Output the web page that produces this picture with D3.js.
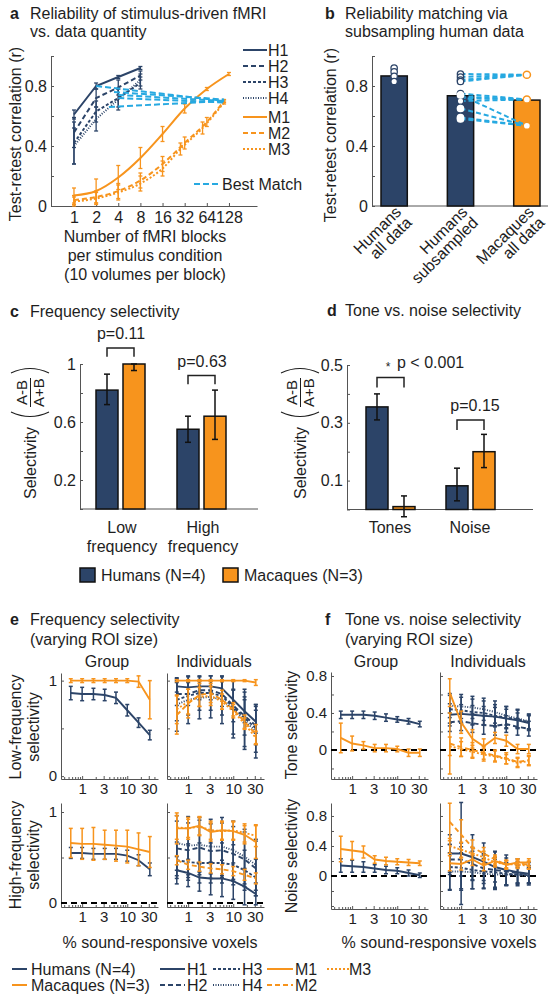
<!DOCTYPE html>
<html><head><meta charset="utf-8">
<script src="https://d3js.org/d3.v7.min.js"></script>
<style>
html,body{margin:0;padding:0;background:#fff;}
svg text{font-family:"Liberation Sans",Arial,Helvetica,sans-serif;}
</style></head>
<body><svg id="fig" width="555" height="997"></svg>
<script>
// ================= DATA =================
// Panel a
const aBlocks = [1,2,4,8,16,32,64,128];
const aHumanBlocks = [1,2,4,8];
const aH1 = [0.61,0.80,0.86,0.92], aH1e = [0.03,0.02,0.01,0.01];
const aH2 = [0.49,0.72,0.79,0.87], aH2e = [0.10,0.06,0.05,0.03];
const aH3 = [0.42,0.63,0.72,0.82], aH3e = [0.14,0.07,0.06,0.04];
const aH4 = [0.40,0.58,0.71,0.84], aH4e = [0.12,0.08,0.07,0.04];
const aM1x = [1,2,4,8,16,32,64,128], aM1 = [0.07,0.10,0.19,0.32,0.48,0.65,0.78,0.88], aM1e = [0.05,0.08,0.08,0.07,0.05,0.03,0.01,0.01];
const aM2x = [1,2,4,8,16,32,64,110], aM2 = [0.04,0.06,0.10,0.17,0.28,0.42,0.56,0.70], aM2e = [0.03,0.04,0.05,0.05,0.05,0.04,0.03,0.01];
const aM3x = [1,2,4,8,16,28,56,110], aM3 = [0.03,0.05,0.09,0.15,0.25,0.38,0.52,0.69], aM3e = [0.03,0.04,0.05,0.05,0.05,0.04,0.04,0.01];
const aBestStartX = [2,3.5,4,4,3], aBestStartY = [0.80,0.76,0.74,0.72,0.66];
const aBestEndX = [110,110,110,110,110], aBestEndY = [0.70,0.71,0.70,0.69,0.70];
const aLegend = ["H1","H2","H3","H4","M1","M2","M3"];

// Panel b
const bCats = [["Humans","all data"],["Humans","subsampled"],["Macaques","all data"]];
const bBars = [0.867,0.735,0.706];
const bHumansAll = [0.92,0.895,0.865,0.83];
const bMacaques = [0.875,0.71,0.535];
const bSubToM1 = [0.88,0.86,0.84,0.83];
const bSubToM2 = [0.75,0.73,0.72,0.70];
const bSubToM3 = [0.74,0.65,0.59,0.58];

// Panel c
const species = ["Humans (N=4)","Macaques (N=3)"];
const cGroups = [["Low","frequency"],["High","frequency"]];
const cVals = [[0.82,1.0],[0.55,0.64]];
const cLo = [[0.72,0.955],[0.46,0.48]];
const cHi = [[0.93,1.0],[0.64,0.82]];
const cP = ["p=0.11","p=0.63"];
const cBracket = [1.11,0.92];

// Panel d
const dGroups = ["Tones","Noise"];
const dVals = [[0.355,0.01],[0.082,0.20]];
const dLo = [[0.31,-0.025],[0.03,0.145]];
const dHi = [[0.40,0.047],[0.143,0.26]];
const dP = ["p < 0.001","p=0.15"];
const dBracket = [0.457,0.31];

// Panels e, f (x = % sound-responsive voxels)
const roiPct = [0.56,1,1.78,3.16,5.62,10,17.8,31.6];
// e: low-frequency, group
const eLoGrpH = [0.87,0.86,0.86,0.85,0.82,0.69,0.56,0.43], eLoGrpHe = [0.07,0.07,0.06,0.06,0.06,0.06,0.05,0.05];
const eLoGrpM = [1,1,1,1,1,1,0.99,0.80], eLoGrpMe = [0.02,0.02,0.02,0.02,0.02,0.02,0.06,0.20];
// e: low-frequency, individuals
const eLoH1 = [0.94,0.93,0.94,0.94,0.92,0.80,0.68,0.57], eLoH1e = [0.06,0.07,0.06,0.06,0.08,0.10,0.12,0.12];
const eLoH2 = [0.86,0.86,0.90,0.90,0.86,0.74,0.63,0.53], eLoH2e = [0.12,0.12,0.10,0.10,0.13,0.17,0.20,0.20];
const eLoH3 = [0.80,0.84,0.87,0.87,0.84,0.72,0.61,0.50], eLoH3e = [0.22,0.20,0.18,0.18,0.20,0.28,0.30,0.25];
const eLoH4 = [0.75,0.80,0.82,0.83,0.80,0.70,0.58,0.47], eLoH4e = [0.28,0.25,0.22,0.22,0.25,0.30,0.30,0.28];
const eLoM1 = [1,1,1,1,1,1,1,0.98], eLoM1e = [0.01,0.01,0.01,0.01,0.01,0.01,0.01,0.03];
const eLoM2 = [0.64,0.76,0.85,0.87,0.80,0.70,0.57,0.44], eLoM2e = [0.20,0.15,0.12,0.10,0.10,0.07,0.07,0.10];
const eLoM3 = [0.70,0.78,0.83,0.84,0.78,0.68,0.55,0.40], eLoM3e = [0.15,0.13,0.10,0.10,0.08,0.07,0.06,0.07];
// e: high-frequency, group
const eHiGrpH = [0.55,0.55,0.54,0.54,0.54,0.52,0.47,0.37], eHiGrpHe = [0.06,0.06,0.06,0.06,0.06,0.06,0.06,0.07];
const eHiGrpM = [0.66,0.65,0.65,0.64,0.63,0.62,0.59,0.56], eHiGrpMe = [0.16,0.17,0.18,0.16,0.17,0.18,0.18,0.17];
// e: high-frequency, individuals
const eHiH1 = [0.36,0.33,0.28,0.27,0.27,0.24,0.18,0.10], eHiH1e = [0.15,0.15,0.15,0.18,0.20,0.20,0.20,0.12];
const eHiH2 = [0.60,0.58,0.61,0.57,0.58,0.54,0.48,0.38], eHiH2e = [0.30,0.30,0.30,0.30,0.30,0.30,0.30,0.30];
const eHiH3 = [0.47,0.45,0.44,0.44,0.44,0.42,0.36,0.28], eHiH3e = [0.20,0.20,0.22,0.22,0.22,0.22,0.22,0.20];
const eHiH4 = [0.66,0.63,0.64,0.62,0.62,0.58,0.51,0.42], eHiH4e = [0.30,0.32,0.30,0.30,0.32,0.32,0.30,0.28];
const eHiM1 = [0.82,0.82,0.85,0.78,0.80,0.79,0.75,0.67], eHiM1e = [0.17,0.12,0.10,0.10,0.10,0.10,0.10,0.18];
const eHiM2 = [0.47,0.42,0.40,0.38,0.37,0.35,0.31,0.27], eHiM2e = [0.05,0.05,0.05,0.05,0.05,0.05,0.06,0.06];
const eHiM3 = [0.83,0.82,0.84,0.80,0.79,0.80,0.77,0.74], eHiM3e = [0.13,0.10,0.10,0.10,0.10,0.10,0.10,0.12];
// f: tone selectivity, group
const fToGrpH = [0.38,0.38,0.38,0.37,0.35,0.33,0.31,0.28], fToGrpHe = [0.04,0.04,0.04,0.04,0.04,0.03,0.03,0.03];
const fToGrpM = [0.13,0.07,0.05,0.02,0.02,0.01,-0.03,-0.03], fToGrpMe = [0.16,0.08,0.04,0.04,0.04,0.03,0.04,0.04];
// f: tone selectivity, individuals
const fToH1 = [0.38,0.39,0.38,0.37,0.36,0.34,0.32,0.29], fToH1e = [0.12,0.10,0.10,0.10,0.10,0.10,0.08,0.08];
const fToH2 = [0.30,0.31,0.29,0.27,0.26,0.28,0.25,0.23], fToH2e = [0.10,0.10,0.10,0.10,0.10,0.09,0.09,0.08];
const fToH3 = [0.44,0.43,0.41,0.40,0.37,0.35,0.33,0.30], fToH3e = [0.15,0.14,0.14,0.13,0.12,0.12,0.10,0.08];
const fToH4 = [0.48,0.47,0.46,0.44,0.41,0.37,0.34,0.31], fToH4e = [0.13,0.13,0.12,0.12,0.12,0.10,0.10,0.08];
const fToM1 = [0.62,0.30,0.12,0.04,0.13,0.10,0.01,0.01], fToM1e = [0.15,0.12,0.10,0.08,0.06,0.06,0.05,0.05];
const fToM2 = [0.07,0.03,0.00,-0.03,-0.06,-0.09,-0.13,-0.11], fToM2e = [0.33,0.10,0.08,0.07,0.06,0.06,0.05,0.05];
const fToM3 = [0.04,0.01,-0.02,-0.05,-0.07,-0.10,-0.14,-0.12], fToM3e = [0.10,0.08,0.07,0.07,0.06,0.05,0.05,0.05];
// f: noise selectivity, group
const fNoGrpH = [0.14,0.13,0.12,0.10,0.08,0.07,0.04,0.01], fNoGrpHe = [0.09,0.08,0.07,0.05,0.05,0.04,0.04,0.03];
const fNoGrpM = [0.36,0.34,0.32,0.22,0.20,0.19,0.18,0.17], fNoGrpMe = [0.17,0.12,0.08,0.05,0.05,0.04,0.04,0.03];
// f: noise selectivity, individuals
const fNoH1 = [0.30,0.30,0.25,0.19,0.12,0.08,0.05,0.03], fNoH1e = [0.25,0.68,0.30,0.25,0.20,0.20,0.18,0.15];
const fNoH2 = [0.22,0.22,0.16,0.10,0.08,0.06,0.04,0.02], fNoH2e = [0.20,0.22,0.22,0.20,0.25,0.18,0.15,0.12];
const fNoH3 = [0.12,0.11,0.08,0.06,0.05,0.03,0.02,0.01], fNoH3e = [0.30,0.28,0.25,0.22,0.20,0.15,0.12,0.10];
const fNoH4 = [0.06,0.06,0.05,0.03,0.02,0.02,0.01,0.00], fNoH4e = [0.25,0.25,0.22,0.20,0.20,0.15,0.10,0.10];
const fNoM1 = [0.17,0.16,0.22,0.14,0.20,0.15,0.18,0.18], fNoM1e = [0.10,0.08,0.08,0.07,0.06,0.06,0.05,0.05];
const fNoM2 = [0.72,0.55,0.38,0.30,0.22,0.15,0.17,0.15], fNoM2e = [0.25,0.20,0.10,0.08,0.06,0.05,0.05,0.05];
const fNoM3 = [0.40,0.35,0.30,0.25,0.18,0.16,0.15,0.14], fNoM3e = [0.10,0.10,0.08,0.08,0.06,0.05,0.05,0.05];
const roiTicks = [1,3,10,30];
const bottomLegend = [["Humans (N=4)","G","H"],["Macaques (N=3)","G","M"],["H1"],["H2"],["H3"],["H4"],["M1"],["M2"],["M3"]];

// ================= STYLE =================
const NAVY="#2c4468", ORANGE="#f7941d", BLUE="#27a9e1", INK="#1e1e1e", AX="#555";
const LS = {H1:[NAVY,null],H2:[NAVY,"5,3"],H3:[NAVY,"3,2"],H4:[NAVY,"1,1.5"],
            M1:[ORANGE,null],M2:[ORANGE,"5,3"],M3:[ORANGE,"2,2"],
            H:[NAVY,null],M:[ORANGE,null]};
const svg = d3.select("#fig");

function T(x,y,s,o={}){
  const t=svg.append("text").attr("x",x).attr("y",y).text(s)
    .attr("font-size",o.size||16).attr("fill",o.fill||INK)
    .attr("text-anchor",o.anchor||"start");
  if(o.weight) t.attr("font-weight",o.weight);
  if(o.rot!=null) t.attr("transform",`rotate(${o.rot},${x},${y})`);
  if(o.base) t.attr("dominant-baseline",o.base);
  return t;
}
function styleAxis(g,size){
  g.attr("font-size",null).attr("font-family",null).attr("color",AX);
  g.selectAll("text").attr("fill",INK).attr("font-size",size||15);
  g.selectAll("path.domain").attr("stroke-width",1);
}
function yAxis(scale,x,majors,minors,fmt,labels=true,size=15){
  const g=svg.append("g").attr("transform",`translate(${x},0)`);
  g.call(d3.axisLeft(scale).tickValues(majors).tickSizeInner(-3).tickSizeOuter(0).tickPadding(4)
    .tickFormat(labels?fmt:""));
  if(minors){const m=g.append("g").call(d3.axisLeft(scale).tickValues(minors).tickSizeInner(-3).tickSizeOuter(0).tickFormat(""));m.select(".domain").remove();}
  styleAxis(g,size); return g;
}
function hline(x1,x2,y,o={}){
  return svg.append("line").attr("x1",x1).attr("x2",x2).attr("y1",y).attr("y2",y)
    .attr("stroke",o.color||AX).attr("stroke-width",o.w||1).attr("stroke-dasharray",o.dash||null);
}
function drawSeries(g,xs,ys,es,X,Y,color,dash,o={}){
  const cap=o.cap||2.2;
  if(es){
    const eg=g.append("g").attr("stroke",color).attr("stroke-width",o.elw||1.3);
    xs.forEach((xv,i)=>{
      const cx=X(xv), y1=Y(ys[i]-es[i]), y2=Y(ys[i]+es[i]);
      eg.append("line").attr("x1",cx).attr("x2",cx).attr("y1",y1).attr("y2",y2);
      eg.append("line").attr("x1",cx-cap).attr("x2",cx+cap).attr("y1",y1).attr("y2",y1);
      eg.append("line").attr("x1",cx-cap).attr("x2",cx+cap).attr("y1",y2).attr("y2",y2);
    });
  }
  const line=d3.line().x((d,i)=>X(xs[i])).y(d=>Y(d)).curve(o.curve||d3.curveLinear);
  g.append("path").datum(ys).attr("d",line).attr("fill","none").attr("stroke",color)
    .attr("stroke-width",o.lw||1.8).attr("stroke-dasharray",dash);
}
const fmtNum = d=>String(d);

// ================= PANEL A =================
T(10,19,"a",{weight:"bold"});
T(30,19,"Reliability of stimulus-driven fMRI");
T(30,37,"vs. data quantity");
const aX=d3.scaleLog().base(2).domain([0.487,308]).range([51,257]);
const aY=d3.scaleLinear().domain([0,1]).range([206,56]);
yAxis(aY,51,[0,0.4,0.8],[0.2,0.6,1],fmtNum,true,16);
{
  const g=svg.append("g").attr("transform","translate(0,206)");
  g.call(d3.axisBottom(aX).tickValues(aBlocks).tickSizeInner(-3).tickSizeOuter(0).tickPadding(6).tickFormat(fmtNum));
  styleAxis(g,16);
}
T(15,134,"Test-retest correlation (r)",{rot:-90,anchor:"middle",base:"central"});
T(145,242,"Number of fMRI blocks",{anchor:"middle"});
T(145,261,"per stimulus condition",{anchor:"middle"});
T(145,280,"(10 volumes per block)",{anchor:"middle"});
{
  const g=svg.append("g");
  const H=[[aH1,aH1e,"H1"],[aH2,aH2e,"H2"],[aH3,aH3e,"H3"],[aH4,aH4e,"H4"]];
  H.forEach(([v,e,k])=>drawSeries(g,aHumanBlocks,v,e,aX,aY,LS[k][0],LS[k][1],{lw:2,cap:2}));
  const M=[[aM1x,aM1,aM1e,"M1"],[aM2x,aM2,aM2e,"M2"],[aM3x,aM3,aM3e,"M3"]];
  M.forEach(([x,v,e,k])=>drawSeries(g,x,v,e,aX,aY,LS[k][0],LS[k][1],{lw:2,cap:2,curve:d3.curveMonotoneX}));
  aBestStartX.forEach((sx,i)=>{
    g.append("line").attr("x1",aX(sx)).attr("y1",aY(aBestStartY[i])).attr("x2",aX(aBestEndX[i])).attr("y2",aY(aBestEndY[i]))
      .attr("stroke",BLUE).attr("stroke-width",2).attr("stroke-dasharray","6,3");
  });
  aLegend.forEach((k,i)=>{
    const y=50+i*16+(i>=4?3:0);
    svg.append("line").attr("x1",243).attr("x2",267).attr("y1",y).attr("y2",y).attr("stroke",LS[k][0]).attr("stroke-width",2).attr("stroke-dasharray",LS[k][1]);
    T(268,y+6,k);
  });
  svg.append("line").attr("x1",194).attr("x2",218).attr("y1",184).attr("y2",184).attr("stroke",BLUE).attr("stroke-width",2).attr("stroke-dasharray","6,3");
  T(222,190,"Best Match");
}

// ================= PANEL B =================
T(325,19,"b",{weight:"bold"});
T(345,19,"Reliability matching via");
T(345,37,"subsampling human data");
const bX=d3.scaleBand().domain(d3.range(bCats.length)).range([381,540]).paddingInner(32/53);
const bY=d3.scaleLinear().domain([0,1]).range([206,56]);
yAxis(bY,372,[0,0.4,0.8],[0.2,0.6,1],fmtNum,true,16);
hline(372,548,206);
T(330,135,"Test-retest correlation (r)",{rot:-90,anchor:"middle",base:"central"});
{
  const g=svg.append("g");
  const cx=i=>bX(i)+bX.bandwidth()/2;
  bBars.forEach((v,i)=>{
    g.append("rect").attr("x",bX(i)).attr("width",bX.bandwidth()).attr("y",bY(v)).attr("height",bY(0)-bY(v))
      .attr("fill",i===2?ORANGE:NAVY).attr("stroke","#111").attr("stroke-width",1.5);
  });
  const subs=[bSubToM1,bSubToM2,bSubToM3];
  subs.forEach((arr,m)=>arr.forEach(v=>{
    g.append("line").attr("x1",cx(1)).attr("y1",bY(v)).attr("x2",cx(2)).attr("y2",bY(bMacaques[m]))
      .attr("stroke",BLUE).attr("stroke-width",2).attr("stroke-dasharray","5,3");
  }));
  bHumansAll.forEach(v=>g.append("circle").attr("cx",cx(0)).attr("cy",bY(v)).attr("r",3.2).attr("fill","#fff").attr("stroke",NAVY).attr("stroke-width",1.3));
  subs.forEach((arr,m)=>arr.forEach(v=>{
    g.append("circle").attr("cx",cx(1)).attr("cy",bY(v)).attr("r",3.2).attr("fill","#fff")
      .attr("stroke",m===2?"#fff":NAVY).attr("stroke-width",1.3);
  }));
  bMacaques.forEach(v=>g.append("circle").attr("cx",cx(2)).attr("cy",bY(v)).attr("r",3.6).attr("fill","#fff").attr("stroke",ORANGE).attr("stroke-width",1.5));
  bCats.forEach((lines,i)=>{
    const x=cx(i)+8, y=213;
    const t=svg.append("text").attr("transform",`translate(${x},${y}) rotate(-45)`).attr("text-anchor","end").attr("font-size",16).attr("fill",INK);
    lines.forEach((s,j)=>t.append("tspan").attr("x",0).attr("y",j*15).text(s));
  });
}

// ================= PANEL C / D helpers =================
function selLabel(ox,oy){
  const g=svg.append("g").attr("transform",`translate(${ox},${oy}) rotate(-90)`);
  g.append("text").attr("x",9).attr("y",6).attr("text-anchor","end").attr("font-size",16).attr("fill",INK).text("Selectivity");
  g.append("path").attr("d","M24,-19 Q15,0 24,19").attr("fill","none").attr("stroke",INK).attr("stroke-width",1.1);
  g.append("path").attr("d","M63,-19 Q72,0 63,19").attr("fill","none").attr("stroke",INK).attr("stroke-width",1.1);
  g.append("text").attr("x",43.5).attr("y",-3).attr("text-anchor","middle").attr("font-size",15).attr("fill",INK).text("A-B");
  g.append("text").attr("x",43.5).attr("y",14).attr("text-anchor","middle").attr("font-size",15).attr("fill",INK).text("A+B");
  g.append("line").attr("x1",29).attr("x2",58).attr("y1",0.5).attr("y2",0.5).attr("stroke",INK).attr("stroke-width",1);
}
function barPanel(gX,inner,Y,vals,lo,hi,bracketY,bracketDrop,pTxt,pOff,star){
  const g=svg.append("g");
  vals.forEach((pair,gi)=>pair.forEach((v,si)=>{
    const x=gX(gi)+gX.bandwidth()/2+inner(si);
    const top=Math.max(v,0);
    g.append("rect").attr("x",x).attr("width",inner.bandwidth()).attr("y",Y(top)).attr("height",Y(0)-Y(top))
      .attr("fill",si?ORANGE:NAVY).attr("stroke","#111").attr("stroke-width",1.5);
  }));
  vals.forEach((pair,gi)=>pair.forEach((v,si)=>{
    const cx=gX(gi)+gX.bandwidth()/2+inner(si)+inner.bandwidth()/2;
    const e=g.append("g").attr("stroke","#111").attr("stroke-width",1.5);
    e.append("line").attr("x1",cx).attr("x2",cx).attr("y1",Y(lo[gi][si])).attr("y2",Y(hi[gi][si]));
    [lo[gi][si],hi[gi][si]].forEach(b=>e.append("line").attr("x1",cx-3).attr("x2",cx+3).attr("y1",Y(b)).attr("y2",Y(b)));
  }));
  bracketY.forEach((by,gi)=>{
    const c=gX(gi)+gX.bandwidth()/2;
    const x1=c+inner(0)+inner.bandwidth()/2, x2=c+inner(1)+inner.bandwidth()/2;
    g.append("path").attr("d",`M${x1},${Y(by-bracketDrop)}V${Y(by)}H${x2}V${Y(by-bracketDrop)}`)
      .attr("fill","none").attr("stroke","#222").attr("stroke-width",1.5);
    const ty=Y(by)-9;
    if(star && gi===0){
      T(c-2,ty+3,"*",{size:12,anchor:"middle"});
      T(c+7,ty,pTxt[gi],{size:16});
    } else T(c+pOff,ty,pTxt[gi],{size:16,anchor:"middle"});
  });
}

// ================= PANEL C =================
T(10,317,"c",{weight:"bold"});
T(30,317,"Frequency selectivity");
const cY=d3.scaleLinear().domain([0,1]).range([509,364]);
const cX=d3.scaleBand().domain(d3.range(2)).range([79.5,241.5]);
const inner=d3.scaleBand().domain(d3.range(2)).range([-24,25]).paddingInner(5/27);
yAxis(cY,80,[0.2,0.6,1],[0,0.4,0.8],fmtNum,true,16);
hline(80,258,509);
selLabel(30,436);
barPanel(cX,inner,cY,cVals,cLo,cHi,cBracket,0.06,cP,1,false);
cGroups.forEach((lines,i)=>lines.forEach((s,j)=>T(cX(i)+cX.bandwidth()/2+2,533+j*19,s,{anchor:"middle"})));
// shared legend
species.forEach((s,i)=>{
  const x=80+i*143;
  svg.append("rect").attr("x",x).attr("y",568).attr("width",15).attr("height",14).attr("fill",i?ORANGE:NAVY).attr("stroke","#111").attr("stroke-width",1.5);
  T(x+21,581,s);
});

// ================= PANEL D =================
T(327,316,"d",{weight:"bold"});
T(345,316,"Tone vs. noise selectivity");
const dY=d3.scaleLinear().domain([0,0.5]).range([509.5,365]);
const dX=d3.scaleBand().domain(d3.range(2)).range([350,510]);
yAxis(dY,347,[0.1,0.3,0.5],[0,0.2,0.4],fmtNum,true,16);
hline(347,533,509.5);
selLabel(300,436);
barPanel(dX,inner,dY,dVals,dLo,dHi,dBracket,0.035,dP,5,true);
dGroups.forEach((s,i)=>T(dX(i)+dX.bandwidth()/2,533,s,{anchor:"middle"}));

// ================= PANELS E / F =================
function subplot(x0,yDom,yRange,majors,minors,labels,series,zero){
  const X=d3.scaleLog().domain([0.34,48]).range([x0,x0+97]);
  const Y=d3.scaleLinear().domain(yDom).range(yRange);
  yAxis(Y,x0,majors,minors,fmtNum,labels,15);
  const gx=svg.append("g").attr("transform",`translate(0,${yRange[0]})`);
  gx.call(d3.axisBottom(X).tickValues(roiTicks).tickSizeInner(-3).tickSizeOuter(0).tickPadding(4).tickFormat(fmtNum));
  const mg=gx.append("g").call(d3.axisBottom(X).tickValues([0.4,0.5,0.6,0.7,0.8,0.9,2,4,5,6,7,8,9,20,40]).tickSizeInner(-2).tickSizeOuter(0).tickFormat(""));
  mg.select(".domain").remove();
  styleAxis(gx,15);
  if(zero) svg.append("line").attr("x1",x0).attr("x2",x0+97).attr("y1",Y(0)).attr("y2",Y(0))
    .attr("stroke","#000").attr("stroke-width",2).attr("stroke-dasharray","6,4");
  const g=svg.append("g");
  series.forEach(([v,e,k])=>drawSeries(g,roiPct,v,e,X,Y,LS[k][0],LS[k][1],{lw:1.9,elw:1.5,cap:2}));
}
// e
T(10,625,"e",{weight:"bold"});
T(30,625,"Frequency selectivity");
T(30,645,"(varying ROI size)");
T(107,667,"Group",{anchor:"middle"});
T(214,667,"Individuals",{anchor:"middle"});
const eTop=[[-0.03,1.08],[779,673]], eBot=[[-0.044,1.099],[907,803]];
subplot(61,eTop[0],eTop[1],[0,1],[0.5],true,[[eLoGrpH,eLoGrpHe,"H"],[eLoGrpM,eLoGrpMe,"M"]],false);
subplot(167,eTop[0],eTop[1],[0,1],[0.5],false,[[eLoH1,eLoH1e,"H1"],[eLoH2,eLoH2e,"H2"],[eLoH3,eLoH3e,"H3"],[eLoH4,eLoH4e,"H4"],[eLoM2,eLoM2e,"M2"],[eLoM3,eLoM3e,"M3"],[eLoM1,eLoM1e,"M1"]],false);
subplot(61,eBot[0],eBot[1],[0,1],[0.5],true,[[eHiGrpH,eHiGrpHe,"H"],[eHiGrpM,eHiGrpMe,"M"]],true);
subplot(167,eBot[0],eBot[1],[0,1],[0.5],false,[[eHiH1,eHiH1e,"H1"],[eHiH2,eHiH2e,"H2"],[eHiH3,eHiH3e,"H3"],[eHiH4,eHiH4e,"H4"],[eHiM2,eHiM2e,"M2"],[eHiM3,eHiM3e,"M3"],[eHiM1,eHiM1e,"M1"]],true);
T(15,727,"Low-frequency",{rot:-90,anchor:"middle",base:"central"});
T(33,727,"selectivity",{rot:-90,anchor:"middle",base:"central"});
T(15,855,"High-frequency",{rot:-90,anchor:"middle",base:"central"});
T(33,855,"selectivity",{rot:-90,anchor:"middle",base:"central"});
T(160,948,"% sound-responsive voxels",{anchor:"middle"});
// f
T(325,625,"f",{weight:"bold"});
T(345,625,"Tone vs. noise selectivity");
T(345,645,"(varying ROI size)");
T(376,667,"Group",{anchor:"middle"});
T(488,667,"Individuals",{anchor:"middle"});
const fTop=[[-0.314,0.843],[779,672]], fBot=[[-0.44,0.973],[909,803]];
subplot(331,fTop[0],fTop[1],[0,0.4,0.8],[-0.2,0.2,0.6],true,[[fToGrpH,fToGrpHe,"H"],[fToGrpM,fToGrpMe,"M"]],true);
subplot(440,fTop[0],fTop[1],[0,0.4,0.8],[-0.2,0.2,0.6],false,[[fToH1,fToH1e,"H1"],[fToH2,fToH2e,"H2"],[fToH3,fToH3e,"H3"],[fToH4,fToH4e,"H4"],[fToM2,fToM2e,"M2"],[fToM3,fToM3e,"M3"],[fToM1,fToM1e,"M1"]],true);
subplot(331,fBot[0],fBot[1],[0,0.4,0.8],[-0.4,-0.2,0.2,0.6],true,[[fNoGrpH,fNoGrpHe,"H"],[fNoGrpM,fNoGrpMe,"M"]],true);
subplot(440,fBot[0],fBot[1],[0,0.4,0.8],[-0.4,-0.2,0.2,0.6],false,[[fNoH1,fNoH1e,"H1"],[fNoH2,fNoH2e,"H2"],[fNoH3,fNoH3e,"H3"],[fNoH4,fNoH4e,"H4"],[fNoM2,fNoM2e,"M2"],[fNoM3,fNoM3e,"M3"],[fNoM1,fNoM1e,"M1"]],true);
T(291,725,"Tone selectivity",{rot:-90,anchor:"middle",base:"central"});
T(291,856,"Noise selectivity",{rot:-90,anchor:"middle",base:"central"});
T(439,948,"% sound-responsive voxels",{anchor:"middle"});

// ================= BOTTOM LEGEND =================
{
  const cols=[[12,27,31],[12,27,31],[160,185,187],[160,185,187],[213,240,242],[213,240,242],[267,293,295],[267,293,295],[327,350,349]];
  const rows=[969,985,969,985,969,985,969,985,969];
  bottomLegend.forEach((e,i)=>{
    const k=e.length>1?e[2]:e[0];
    const [x1,x2,tx]=cols[i], y=rows[i];
    svg.append("line").attr("x1",x1).attr("x2",x2).attr("y1",y).attr("y2",y).attr("stroke",LS[k][0]).attr("stroke-width",2).attr("stroke-dasharray",LS[k][1]);
    T(tx,y+6,e[0]);
  });
}
</script></body></html>
